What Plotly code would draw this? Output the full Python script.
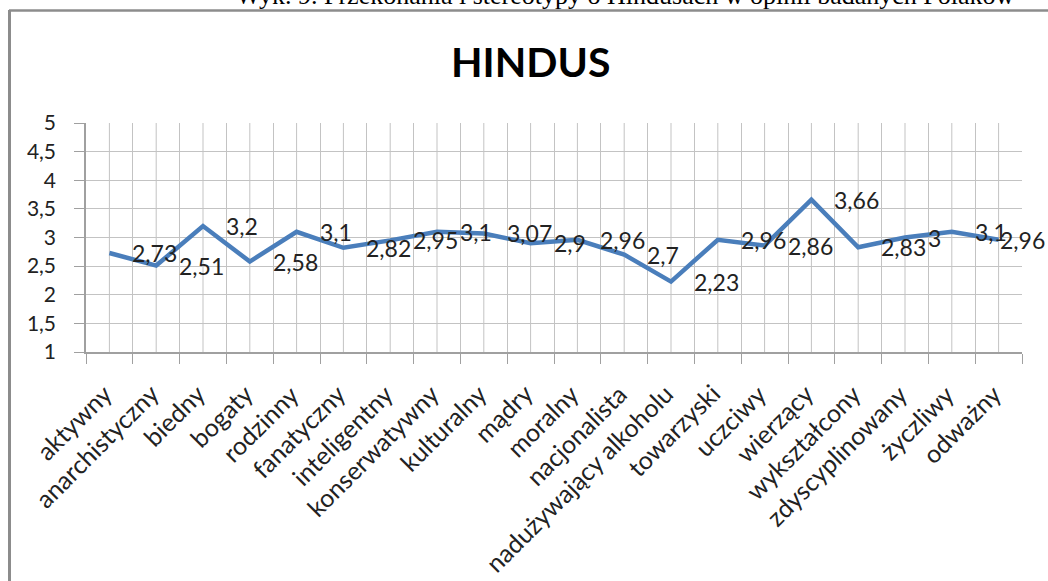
import plotly.graph_objects as go

categories = ["aktywny", "anarchistyczny", "biedny", "bogaty", "rodzinny", "fanatyczny",
              "inteligentny", "konserwatywny", "kulturalny", "mądry", "moralny", "nacjonalista",
              "nadużywający alkoholu", "towarzyski", "uczciwy", "wierzący", "wykształcony",
              "zdyscyplinowany", "życzliwy", "odważny"]
values = [2.73, 2.51, 3.2, 2.58, 3.1, 2.82, 2.95, 3.1, 3.07, 2.9, 2.96, 2.7,
          2.23, 2.96, 2.86, 3.66, 2.83, 3.0, 3.1, 2.96]
y_ticks = [1, 1.5, 2, 2.5, 3, 3.5, 4, 4.5, 5]

W, H = 1048, 581
L, R, T, B = 86, 1022, 123, 352
FONT = "Lato, Carlito, Calibri, sans-serif"
GRID = "#c3c3c3"

def px_to_paper_x(px):
    return (px - L) / (R - L)

def px_to_paper_y(py):
    return (B - py) / (B - T)

fig = go.Figure()
fig.add_trace(go.Scatter(x=categories, y=values, mode="lines",
                         line=dict(color="#4a7ebb", width=4.5), hoverinfo="skip",
                         showlegend=False))

labels = [f"{v:g}".replace(".", ",") for v in values]
annotations = []
n = len(categories)
for i, (c, v, t) in enumerate(zip(categories, values, labels)):
    # the last label is pulled in so that it stays inside the chart frame
    shift = 21 if i < n - 1 else -1
    annotations.append(dict(x=c, y=v, xref="x", yref="y", text=t, showarrow=False,
                            xanchor="left", yanchor="middle", xshift=shift,
                            font=dict(family=FONT, size=23, color="#222222")))
# category labels (rotated)
for c in categories:
    annotations.append(dict(x=c, y=0, xref="x", yref="paper", text=c, showarrow=False,
                            xanchor="right", yanchor="top", xshift=9, yshift=-25,
                            textangle=-45, borderpad=0,
                            font=dict(family=FONT, size=25, color="#222222")))

annotations.append(dict(x=px_to_paper_x(530), y=px_to_paper_y(61), xref="paper", yref="paper",
                        text="<b>HINDUS</b>", showarrow=False, xanchor="center", yanchor="middle",
                        font=dict(family=FONT, size=41, color="#000000")))
annotations.append(dict(x=px_to_paper_x(625), y=px_to_paper_y(-5), xref="paper", yref="paper",
                        text="Wyk. 9. Przekonania i stereotypy o Hindusach w opinii badanych Polaków",
                        showarrow=False, xanchor="center", yanchor="middle",
                        font=dict(family="Liberation Serif, Times New Roman, serif", size=26,
                                  color="#000000")))

shapes = []
for c in categories:
    shapes.append(dict(type="line", xref="x", yref="y", x0=c, x1=c, y0=y_ticks[0], y1=y_ticks[-1],
                       line=dict(color=GRID, width=1), layer="below"))
# outer frame (top and left edges visible)
shapes.append(dict(type="line", xref="paper", yref="paper",
                   x0=px_to_paper_x(9), x1=px_to_paper_x(1060),
                   y0=px_to_paper_y(10.5), y1=px_to_paper_y(10.5),
                   line=dict(color="#8c8c8c", width=2.5)))
shapes.append(dict(type="line", xref="paper", yref="paper",
                   x0=px_to_paper_x(9.5), x1=px_to_paper_x(9.5),
                   y0=px_to_paper_y(10), y1=px_to_paper_y(600),
                   line=dict(color="#8c8c8c", width=3)))

fig.update_layout(
    width=W, height=H,
    margin=dict(l=L, r=W - R, t=T, b=H - B, pad=0, autoexpand=False),
    paper_bgcolor="white", plot_bgcolor="white",
    separators=", ",
    annotations=annotations, shapes=shapes,
    font=dict(family=FONT, color="#222222"),
)
fig.update_xaxes(type="category", categoryorder="array", categoryarray=categories,
                 range=[-0.5, n - 0.5], autorange=False,
                 automargin=False, showticklabels=False,
                 tickson="boundaries", ticks="outside", ticklen=10, tickcolor="#a0a0a0",
                 showgrid=True, gridcolor=GRID, gridwidth=1,
                 showline=True, linecolor="#a0a0a0", linewidth=1.5)
fig.update_yaxes(range=[y_ticks[0], y_ticks[-1]], autorange=False, tickvals=y_ticks,
                 automargin=False,
                 ticks="outside", ticklen=10, tickcolor="#a0a0a0",
                 showgrid=True, gridcolor=GRID, gridwidth=1,
                 showline=True, linecolor="#a0a0a0", linewidth=1.5,
                 ticklabelstandoff=14,
                 tickfont=dict(family=FONT, size=21, color="#222222"), zeroline=False)

fig.write_html("out.html", config={"displayModeBar": False},
               post_script="document.body.style.margin='0';")
